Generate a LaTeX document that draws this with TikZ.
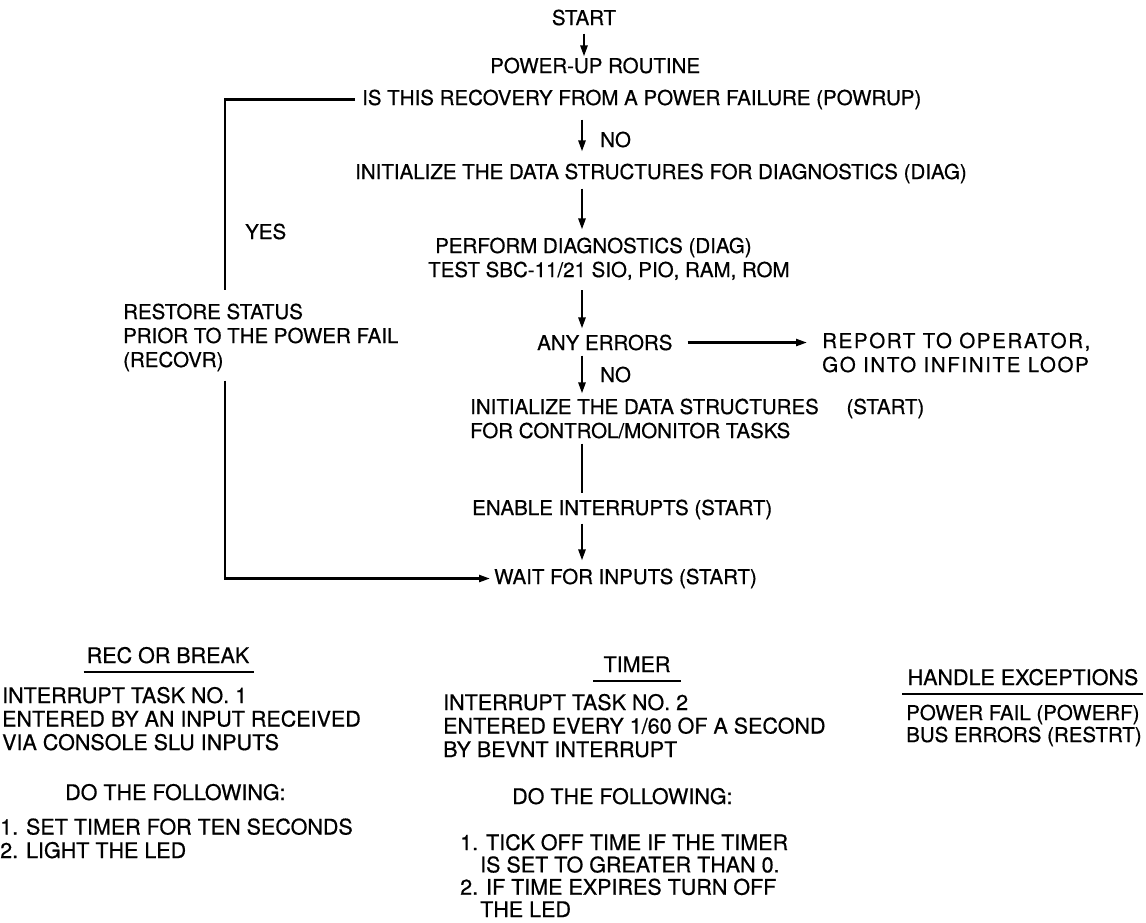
\documentclass[tikz,border=0pt]{standalone}
\usepackage{fontspec}
\setmainfont{TeX Gyre Heros}[FakeBold=0.6]
\usetikzlibrary{arrows.meta,calc}
\newcommand{\flowsize}{\fontsize{20.5}{24}\selectfont}
\newcommand{\tasksize}{\fontsize{21.5}{23.5}\selectfont}
\begin{document}
\begin{tikzpicture}[x=1pt,y=-1pt,
  txt/.style={font=\flowsize, inner sep=0pt, align=left, anchor=base west},
  ttxt/.style={txt, font=\tasksize},
  wire/.style={line width=2.3pt},
  arr/.style={wire,-{Triangle[length=11pt,width=7pt]}},
  uline/.style={line width=2.6pt}]
\useasboundingbox (0,0) rectangle (1146,922);

% main flow (multi-line nodes are placed by the baseline of their last line)
\node[txt, anchor=base] (start) at (584,25) {START};
\node[txt] (powerup) at (490,73) {POWER-UP ROUTINE};
\node[txt] (recov) at (362,105) {IS THIS RECOVERY FROM A POWER FAILURE (POWRUP)};
\node[txt] (initdiag) at (355,179) {INITIALIZE THE DATA STRUCTURES FOR DIAGNOSTICS (DIAG)};
\node[txt] (perform) at (428,277) {\hspace*{7pt}PERFORM DIAGNOSTICS (DIAG)\\TEST SBC-11/21 SIO, PIO, RAM, ROM};
\node[txt] (anyerr) at (537,350) {ANY ERRORS};
\node[txt, font=\flowsize\addfontfeature{LetterSpace=8}] (report) at (822,372) {REPORT TO OPERATOR,\\GO INTO INFINITE LOOP};
\node[txt] (initstart) at (470,438) {INITIALIZE THE DATA STRUCTURES\hspace{22pt} (START)\\FOR CONTROL/MONITOR TASKS};
\node[txt] (enable) at (472,515) {ENABLE INTERRUPTS (START)};
\node[txt] (wait) at (494,584) {WAIT FOR INPUTS (START)};
\node[txt] (restore) at (123,367) {RESTORE STATUS\\PRIOR TO THE POWER FAIL\\(RECOVR)};
\node[txt] (yes) at (245,239) {YES};
\node[txt] (no1) at (600,147) {NO};
\node[txt] (no2) at (600,382) {NO};

\coordinate (sx) at (582,0);
\coordinate (lx) at (225,0);

\draw[arr, shorten <=8pt, shorten >=1pt] (start.south) -- (start.south |- powerup.north);
\draw[arr, shorten <=10pt, shorten >=12pt] (sx |- recov.south) -- (sx |- initdiag.north);
\draw[arr, shorten <=5pt, shorten >=8pt] (sx |- initdiag.south) -- (sx |- perform.north);
\draw[arr, shorten <=10pt, shorten >=6pt] (sx |- perform.south) -- (sx |- anyerr.north);
\draw[arr, shorten <=15pt, shorten >=15pt] (anyerr.east) -- (anyerr.east -| report.west);
\draw[arr, shorten <=5pt, shorten >=5pt] (sx |- anyerr.south) -- (sx |- initstart.north);
\draw[wire, shorten <=5pt, shorten >=6pt] (sx |- initstart.south) -- (sx |- enable.north);
\draw[arr, shorten <=4pt, shorten >=8pt] (sx |- enable.south) -- (sx |- wait.north);

% recovery branch
\draw[wire, shorten <=7pt, shorten >=13pt] (recov.west) -- (recov.west -| lx) -- (lx |- restore.north);
\draw[arr, shorten <=9pt, shorten >=4pt] (lx |- restore.south) -- (lx |- wait.west) -- (wait.west);

% interrupt tasks
\node[ttxt, anchor=base] (rectitle) at (168,663) {REC OR BREAK};
\draw[uline] ($(rectitle.base west)+(-3,9)$) -- ($(rectitle.base east)+(5,9)$);
\node[ttxt] (task1) at (2,750) {INTERRUPT TASK NO. 1\\ENTERED BY AN INPUT RECEIVED\\VIA CONSOLE SLU INPUTS};
\node[ttxt] (do1) at (65,800) {DO THE FOLLOWING:};
\node[ttxt] (list1) at (0,858) {1. SET TIMER FOR TEN SECONDS\\2. LIGHT THE LED};

\node[ttxt, anchor=base] (timertitle) at (637,672) {TIMER};
\draw[uline] ($(timertitle.base west)+(-10,9)$) -- ($(timertitle.base east)+(10,9)$);
\node[ttxt] (task2) at (443,757) {INTERRUPT TASK NO. 2\\ENTERED EVERY 1/60 OF A SECOND\\BY BEVNT INTERRUPT};
\node[ttxt] (do2) at (512,804) {DO THE FOLLOWING:};
\node[ttxt, font=\fontsize{21.5}{22.3}\selectfont] (list2) at (460,917) {1. TICK OFF TIME IF THE TIMER\\\hspace*{20pt}IS SET TO GREATER THAN 0.\\2. IF TIME EXPIRES TURN OFF\\\hspace*{20pt}THE LED};

\node[ttxt, anchor=base] (exctitle) at (1023,685) {HANDLE EXCEPTIONS};
\draw[uline] ($(exctitle.base west)+(-5,9)$) -- ($(exctitle.base east)+(4,9)$);
\node[ttxt, font=\fontsize{20.5}{22}\selectfont] (exc) at (906,742) {POWER FAIL (POWERF)\\BUS ERRORS (RESTRT)};
\end{tikzpicture}
\end{document}
